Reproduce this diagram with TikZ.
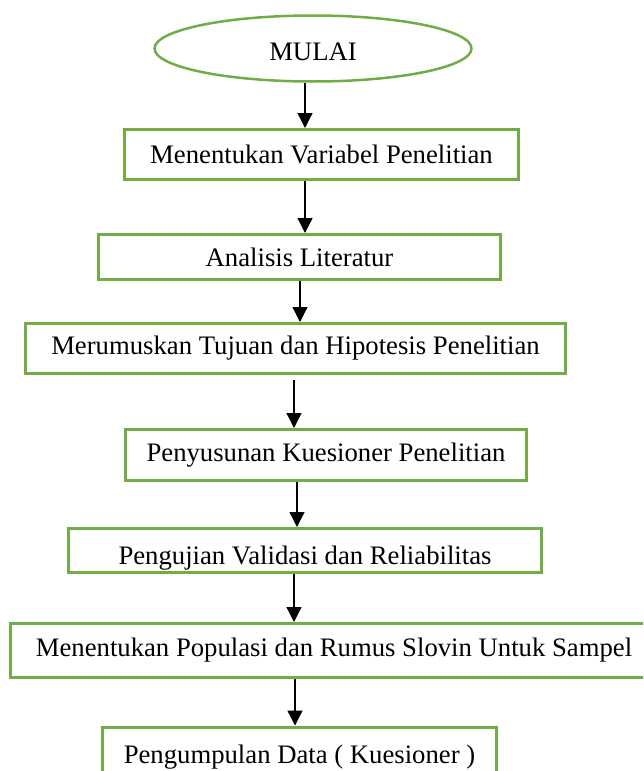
\documentclass[tikz,border=0pt]{standalone}
\usepackage{fontspec}
\setmainfont{Liberation Serif}
\usetikzlibrary{shapes.geometric,arrows.meta}
\definecolor{ijau}{RGB}{112,173,71}
\tikzset{
  langkah/.style={draw=ijau,line width=3pt,rectangle,inner sep=0pt,minimum height=50pt},
  panah/.style={-{Triangle[width=15pt,length=15pt]},line width=1.3pt},
}
\begin{document}
\begin{tikzpicture}[x=1pt,y=-1pt,font=\fontsize{26.7}{30}\selectfont]
  \clip (0,0) rectangle (643,771);
  \node[draw=ijau,line width=2.5pt,ellipse,minimum width=317pt,minimum height=66pt,text height=23pt,text depth=0pt] (mulai) at (313,48.5) {MULAI};
  \node[langkah,minimum width=394pt] (vari) at (321.5,154.5) {Menentukan Variabel Penelitian};
  \node[langkah,minimum width=402pt,minimum height=45pt] (anal) at (299.5,257) {Analisis Literatur};
  \node[langkah,minimum width=540pt] (tuju) at (295.5,348.5) {Merumuskan Tujuan dan Hipotesis Penelitian};
  \node[langkah,minimum width=401pt,minimum height=51pt] (kues) at (326,455) {Penyusunan Kuesioner Penelitian};
  \node[langkah,minimum width=473pt,minimum height=44pt,text height=36pt,text depth=8pt] (uji) at (305,550.5) {Pengujian Validasi dan Reliabilitas};
  \node[langkah,minimum width=648pt,minimum height=54pt] (popu) at (334,650.5) {Menentukan Populasi dan Rumus Slovin Untuk Sampel};
  \node[langkah,minimum width=394pt,minimum height=60pt] (data) at (299.5,757) {Pengumpulan Data ( Kuesioner )};
  \draw[panah] ([xshift=-8pt]mulai.south) -- ([xshift=-16.5pt]vari.north);
  \draw[panah] ([xshift=-16.5pt]vari.south) -- ([xshift=5.5pt]anal.north);
  \draw[panah] ([xshift=0.5pt]anal.south) -- ([xshift=4.5pt]tuju.north);
  \draw[panah] ([xshift=-1.5pt,yshift=-5pt]tuju.south) -- ([xshift=-32pt]kues.north);
  \draw[panah] ([xshift=-29pt]kues.south) -- ([xshift=-8pt]uji.north);
  \draw[panah] ([xshift=-11pt]uji.south) -- ([xshift=-40pt]popu.north);
  \draw[panah] ([xshift=-39pt]popu.south) -- ([xshift=-4.5pt]data.north);
\end{tikzpicture}
\end{document}
